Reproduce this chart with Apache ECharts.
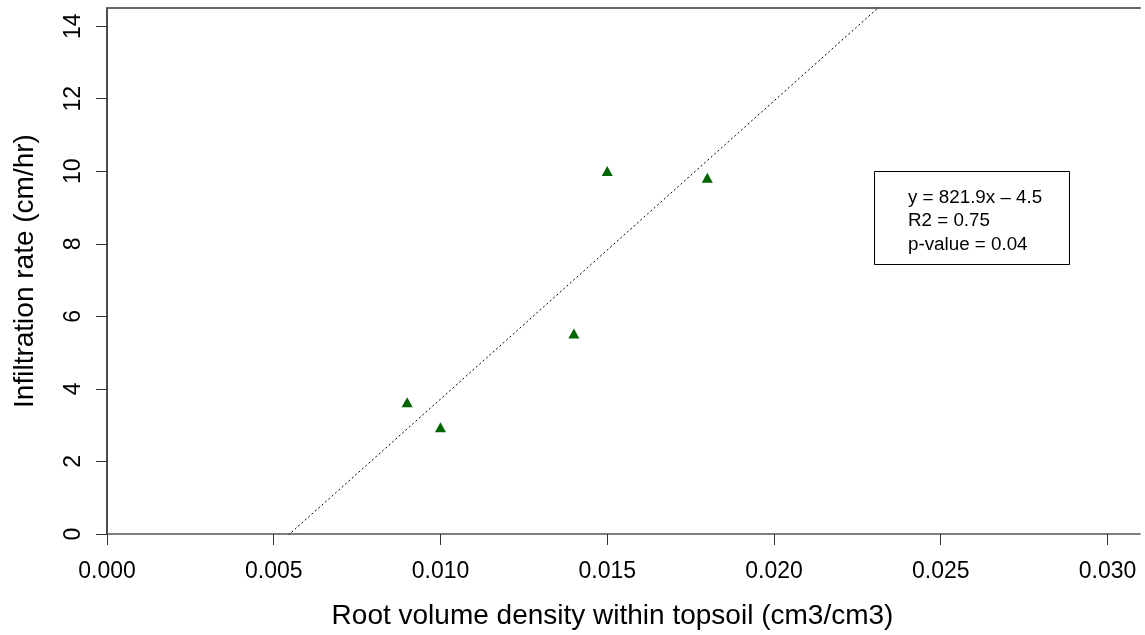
<!DOCTYPE html>
<html>
<head>
<meta charset="utf-8">
<script src="https://cdn.jsdelivr.net/npm/echarts@6/dist/echarts.min.js"></script>
<style>
html,body{margin:0;padding:0;background:#fff;overflow:hidden;}
#chart{width:1145px;height:635px;}
</style>
</head>
<body>
<div id="chart"></div>
<script>
// Data
const rootDensity = [0.009, 0.010, 0.014, 0.015, 0.018];
const infiltration = [3.63, 2.94, 5.53, 10.01, 9.82];
const fitSlope = 821.9;
const fitIntercept = -4.5;
const xTicks = [0.000, 0.005, 0.010, 0.015, 0.020, 0.025, 0.030];
const yTicks = [0, 2, 4, 6, 8, 10, 12, 14];
const statLines = ['y = 821.9x \u2013 4.5', 'R2 = 0.75', 'p-value = 0.04'];

const X_MIN = 0, X_MAX = 0.030975, Y_MIN = 0, Y_MAX = 14.5;

const points = rootDensity.map((x, i) => [x, infiltration[i]]);
const fitLine = [X_MIN, X_MAX].map(x => [x, fitSlope * x + fitIntercept]);

const FONT = '"Liberation Sans", Arial, sans-serif';

const chart = echarts.init(document.getElementById('chart'), null, {renderer: 'canvas'});
chart.setOption({
  animation: false,
  backgroundColor: '#fff',
  grid: {
    left: 107, right: 5, top: 8, bottom: 100,
    show: false, containLabel: false
  },
  xAxis: [{
    type: 'value', min: X_MIN, max: X_MAX, position: 'bottom',
    name: 'Root volume density within topsoil (cm3/cm3)',
    nameLocation: 'middle', nameGap: 68,
    nameTextStyle: {fontFamily: FONT, fontSize: 28, color: '#000', padding: [0, 22, 0, 0]},
    splitLine: {show: false},
    axisLine: {show: true, lineStyle: {color: '#555', width: 1.5}},
    axisTick: {show: true, length: 11, inside: false, customValues: xTicks, lineStyle: {color: '#333', width: 1}},
    axisLabel: {
      customValues: xTicks, margin: 26,
      fontFamily: FONT, fontSize: 23, color: '#000',
      formatter: v => v.toFixed(3)
    }
  }, {
    type: 'value', min: X_MIN, max: X_MAX, position: 'top',
    splitLine: {show: false},
    axisLine: {show: true, lineStyle: {color: '#666', width: 2}},
    axisTick: {show: false}, axisLabel: {show: false}
  }],
  yAxis: {
    type: 'value', min: Y_MIN, max: Y_MAX,
    name: 'Infiltration rate (cm/hr)',
    nameLocation: 'middle', nameGap: 68,
    nameTextStyle: {fontFamily: FONT, fontSize: 28, color: '#000'},
    splitLine: {show: false},
    axisLine: {show: true, lineStyle: {color: '#111', width: 1.5}},
    axisTick: {show: true, length: 11, inside: false, customValues: yTicks, lineStyle: {color: '#333', width: 1}},
    axisLabel: {
      customValues: yTicks, margin: 22, rotate: 90,
      fontFamily: FONT, fontSize: 23, color: '#000',
      formatter: v => String(v)
    }
  },
  series: [
    {
      type: 'line', data: fitLine, showSymbol: false, symbol: 'none',
      clip: true, silent: true,
      lineStyle: {color: '#000', width: 1, type: [2, 2.5]}
    },
    {
      type: 'scatter', data: points, symbol: 'triangle', symbolSize: [11, 10],
      itemStyle: {color: '#006400', opacity: 1}
    }
  ],
  graphic: [
    {
      type: 'rect', shape: {x: 874.5, y: 171.5, width: 195, height: 93},
      style: {fill: '#fff', stroke: '#000', lineWidth: 1}
    },
    ...statLines.map((t, i) => ({
      type: 'text', x: 908, y: 197.5 + i * 23.5,
      style: {text: t, fontFamily: FONT, fontSize: 18.8, fill: '#000', verticalAlign: 'middle', textAlign: 'left'}
    }))
  ]
});
</script>
</body>
</html>
